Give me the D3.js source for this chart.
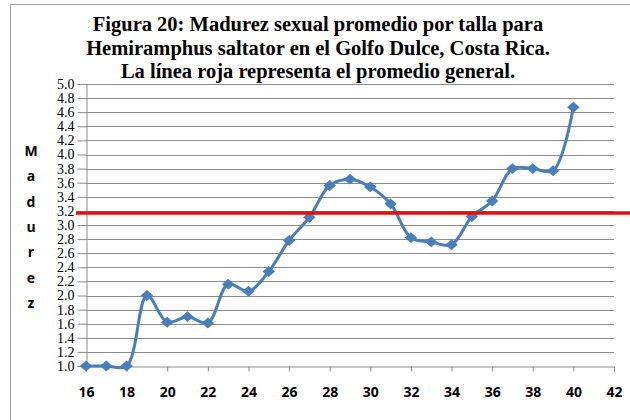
<!DOCTYPE html>
<html>
<head>
<meta charset="utf-8">
<script src="https://cdn.jsdelivr.net/npm/d3@7"></script>
<style>
	body { margin: 0; background: #fff; }
	svg { display: block; }
</style>
</head>
<body>
<div id="root"></div>
<script>
// talla (cm)
const tallas = [16,17,18,19,20,21,22,23,24,25,26,27,28,29,30,31,32,33,34,35,36,37,38,39,40]
// madurez promedio
const madurez = [1.0,1.0,1.0,2.0,1.62,1.70,1.61,2.16,2.06,2.34,2.78,3.11,3.56,3.65,3.54,3.30,2.82,2.76,2.72,3.12,3.34,3.80,3.80,3.77,4.67]
const promedioGeneral = 3.17
const xTicks = [16,18,20,22,24,26,28,30,32,34,36,38,40,42]
const yTicks = [1.0,1.2,1.4,1.6,1.8,2.0,2.2,2.4,2.6,2.8,3.0,3.2,3.4,3.6,3.8,4.0,4.2,4.4,4.6,4.8,5.0]
const tituloLineas = [
	"Figura 20: Madurez sexual promedio por talla para",
	"Hemiramphus saltator en el Golfo Dulce, Costa Rica.",
	"La línea roja representa el promedio general."
]
const yTitulo = "Madurez"

const width = 630, height = 420
const plot = { left: 86, right: 614, top: 84, bottom: 366 }

const svg = d3.select('#root')
	.append('svg')
	.attr('width', width)
	.attr('height', height)

// marco del gráfico
svg.append('rect')
	.attr('x', 10.5).attr('y', 4.5)
	.attr('width', 640).attr('height', 440)
	.attr('fill', 'none')
	.attr('stroke', '#a0a0a0')

const x = d3.scaleLinear().domain([16, 42]).range([plot.left, plot.right])
const y = d3.scaleLinear().domain([1, 5]).range([plot.bottom, plot.top])

// líneas de cuadrícula
svg.append('g')
	.selectAll('line')
	.data(yTicks.slice(1))
	.enter().append('line')
	.attr('x1', plot.left).attr('x2', plot.right)
	.attr('y1', d => Math.round(y(d)) + 0.5)
	.attr('y2', d => Math.round(y(d)) + 0.5)
	.attr('stroke', '#8c8c8c')
	.attr('stroke-width', 1)

// eje Y
const yAxis = svg.append('g')
	.attr('transform', `translate(${plot.left + 0.5},0)`)
	.call(d3.axisLeft(y).tickValues(yTicks).tickFormat(d3.format('.1f')).tickSize(9).tickPadding(3))
yAxis.select('.domain').attr('stroke', '#8c8c8c')
yAxis.selectAll('.tick line').attr('stroke', '#8c8c8c')
yAxis.selectAll('text')
	.style('font-family', '"Liberation Serif", "Times New Roman", serif')
	.style('font-size', '14px')
	.attr('fill', '#000')

// eje X
const xAxis = svg.append('g')
	.attr('transform', `translate(0,${plot.bottom + 0.5})`)
	.call(d3.axisBottom(x).tickValues(xTicks).tickSize(5).tickPadding(16))
xAxis.select('.domain').attr('stroke', '#8c8c8c')
xAxis.selectAll('.tick line').attr('stroke', '#8c8c8c')
xAxis.selectAll('text')
	.style('font-family', '"Open Sans", "DejaVu Sans", sans-serif')
	.style('font-size', '14px')
	.style('font-weight', 'bold')
	.attr('fill', '#000')

// título del eje Y (letras apiladas)
svg.append('g')
	.selectAll('text')
	.data(yTitulo.split(''))
	.enter().append('text')
	.attr('x', 31)
	.attr('y', (d, i) => 156 + i * 25.3)
	.attr('text-anchor', 'middle')
	.style('font-family', '"Open Sans", "DejaVu Sans", sans-serif')
	.style('font-size', '14px')
	.style('font-weight', 'bold')
	.text(d => d)

// serie
const datos = tallas.map((t, i) => ({ talla: t, valor: madurez[i] }))

const linea = d3.line()
	.x(d => x(d.talla))
	.y(d => y(d.valor))
	.curve(d3.curveCatmullRom.alpha(0.5))

svg.append('path')
	.datum(datos)
	.attr('d', linea)
	.attr('fill', 'none')
	.attr('stroke', '#4a7ebb')
	.attr('stroke-width', 3)

svg.append('g')
	.selectAll('path')
	.data(datos)
	.enter().append('path')
	.attr('d', d3.symbol().type(d3.symbolDiamond2).size(75))
	.attr('transform', d => `translate(${x(d.talla)},${y(d.valor)}) scale(1.15,1)`)
	.attr('fill', '#4a7ebb')

// promedio general
svg.append('line')
	.attr('x1', 76).attr('x2', width)
	.attr('y1', y(promedioGeneral)).attr('y2', y(promedioGeneral))
	.attr('stroke', '#e01010')
	.attr('stroke-width', 3.5)

// título
svg.append('g')
	.selectAll('text')
	.data(tituloLineas)
	.enter().append('text')
	.attr('x', 318)
	.attr('y', (d, i) => 31 + i * 23.5)
	.attr('text-anchor', 'middle')
	.style('font-family', '"Liberation Serif", "Times New Roman", serif')
	.style('font-size', '20.5px')
	.style('font-weight', 'bold')
	.text(d => d)
</script>
</body>
</html>
